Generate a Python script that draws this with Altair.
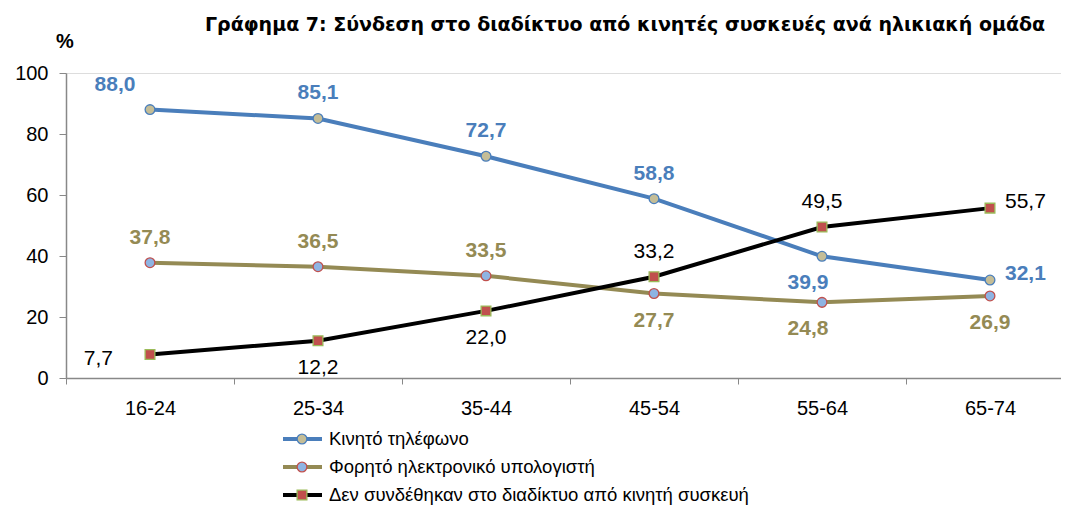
import altair as alt
import pandas as pd

# ---- data ----
age_groups = ["16-24", "25-34", "35-44", "45-54", "55-64", "65-74"]
series_names = [
    "Κινητό τηλέφωνο",
    "Φορητό ηλεκτρονικό υπολογιστή",
    "Δεν συνδέθηκαν στο διαδίκτυο από κινητή συσκευή",
]
mobile_phone = [88.0, 85.1, 72.7, 58.8, 39.9, 32.1]
laptop = [37.8, 36.5, 33.5, 27.7, 24.8, 26.9]
no_mobile = [7.7, 12.2, 22.0, 33.2, 49.5, 55.7]

# label placement per point (style)
placements = {
    series_names[0]: ["aboveleft", "above", "above", "above", "belowleft", "right"],
    series_names[1]: ["above", "above", "above", "below", "belowleft", "below"],
    series_names[2]: ["left", "below", "below", "above", "above", "right"],
}

title_text = "Γράφημα 7: Σύνδεση στο διαδίκτυο από κινητές συσκευές ανά ηλικιακή ομάδα"

rows = []
for name, vals in zip(series_names, [mobile_phone, laptop, no_mobile]):
    for i, (g, v) in enumerate(zip(age_groups, vals)):
        rows.append({"series": name, "age": g, "value": v,
                     "label": f"{v:.1f}".replace(".", ","),
                     "place": placements[name][i],
                     "bold": name != series_names[2]})
df = pd.DataFrame(rows)

line_colors = ["#4A7EBB", "#948A54", "#000000"]
fill_colors = ["#C4BD97", "#8EB4E3", "#C0504D"]
stroke_colors = ["#4A7EBB", "#C0504D", "#9BBB59"]
label_colors = ["#4F81BD", "#948A54", "#000000"]
shapes = ["circle", "circle", "square"]

FONT = "Liberation Sans"
GRAY = "#888888"

x_enc = alt.X(
    "age:N", sort=age_groups, title=None,
    scale=alt.Scale(type="band", domain=age_groups, paddingInner=0, paddingOuter=0, range=[0, 1008]),
    axis=alt.Axis(tickBand="extent", labelAngle=0, labelFont=FONT, labelFontSize=20,
                  labelColor="#000000", labelPadding=14, tickSize=6, tickColor=GRAY,
                  domainColor=GRAY, domainWidth=1.5, grid=False),
)
y_enc = alt.Y(
    "value:Q", title=None,
    scale=alt.Scale(domain=[0, 100], nice=False, zero=True),
    axis=alt.Axis(values=[0, 20, 40, 60, 80, 100], labelFont=FONT, labelFontSize=20,
                  labelColor="#000000", labelPadding=11, tickSize=7, tickColor=GRAY,
                  domainColor=GRAY, domainWidth=1.5, grid=False),
)

color_scale = alt.Scale(domain=series_names, range=line_colors)
base = alt.Chart(df)

lines = base.mark_line(strokeWidth=4).encode(
    x=x_enc, y=y_enc,
    color=alt.Color("series:N", scale=color_scale, legend=None),
    detail="series:N",
)
points = base.mark_point(filled=True, size=95, strokeWidth=1.3, opacity=1).encode(
    x=x_enc, y=y_enc,
    fill=alt.Fill("series:N", scale=alt.Scale(domain=series_names, range=fill_colors), legend=None),
    stroke=alt.Stroke("series:N", scale=alt.Scale(domain=series_names, range=stroke_colors), legend=None),
    shape=alt.Shape("series:N", scale=alt.Scale(domain=series_names, range=shapes), legend=None),
)

offsets = {
    "above": dict(dx=0, dy=-25, align="center"),
    "aboveleft": dict(dx=-35, dy=-25, align="center"),
    "below": dict(dx=0, dy=27, align="center"),
    "belowleft": dict(dx=-14, dy=27, align="center"),
    "right": dict(dx=15, dy=-6, align="left"),
    "left": dict(dx=-37, dy=4, align="right"),
}

label_layers = []
for place, opts in offsets.items():
    for bold in [True, False]:
        sub = df[(df.place == place) & (df.bold == bold)]
        if len(sub) == 0:
            continue
        label_layers.append(
            base.transform_filter(
                (alt.datum.place == place) & (alt.datum.bold == bold)
            ).mark_text(font=FONT, fontSize=21, fontWeight="bold" if bold else "normal",
                        baseline="middle", **opts).encode(
                x=x_enc, y=y_enc, text="label:N",
                color=alt.Color("series:N", scale=alt.Scale(domain=series_names, range=label_colors), legend=None),
            )
        )

main = alt.layer(lines, points, *label_layers)

# ---- legend (drawn below the plot) ----
leg_df = pd.DataFrame({"series": series_names})
leg_y = alt.Y("series:N", axis=None,
              scale=alt.Scale(type="point", domain=series_names, range=[366, 422], padding=0))
leg_base = alt.Chart(leg_df)
leg_rule = leg_base.mark_rule(strokeWidth=4).encode(
    x=alt.value(217), x2=alt.value(256), y=leg_y,
    color=alt.Color("series:N", scale=alt.Scale(domain=series_names, range=line_colors), legend=None),
)
leg_pt = leg_base.mark_point(filled=True, size=95, strokeWidth=1.3, opacity=1).encode(
    x=alt.value(236), y=leg_y,
    fill=alt.Fill("series:N", scale=alt.Scale(domain=series_names, range=fill_colors), legend=None),
    stroke=alt.Stroke("series:N", scale=alt.Scale(domain=series_names, range=stroke_colors), legend=None),
    shape=alt.Shape("series:N", scale=alt.Scale(domain=series_names, range=shapes), legend=None),
)
leg_txt = leg_base.mark_text(font=FONT, fontSize=18.5, align="left", baseline="middle",
                             color="#000000").encode(
    x=alt.value(263), y=leg_y, text="series:N",
)
legend = alt.layer(leg_rule, leg_pt, leg_txt)

# ---- title and unit ----
t_df = pd.DataFrame({"t": [title_text], "u": ["%"]})
title_mark = alt.Chart(t_df).mark_text(font="DejaVu Sans", fontSize=19, fontWeight="bold",
                                        align="left", baseline="middle", color="#000000").encode(
    x=alt.value(139), y=alt.value(-48), text="t:N")
unit_mark = alt.Chart(t_df).mark_text(font=FONT, fontSize=20, fontWeight="bold",
                                       align="center", baseline="middle", color="#000000").encode(
    x=alt.value(-1), y=alt.value(-31), text="u:N")
decor = alt.layer(title_mark, unit_mark)

chart = alt.layer(main, legend, decor).resolve_scale(y="independent").properties(
    width=995, height=305,
    autosize=alt.AutoSizeParams(type="none"),
    padding={"left": 58, "top": 65, "right": 0, "bottom": 127},
).configure_view(stroke=None).configure(background="#ffffff")

chart.save("out.html", embed_options={"renderer": "svg", "actions": False})
